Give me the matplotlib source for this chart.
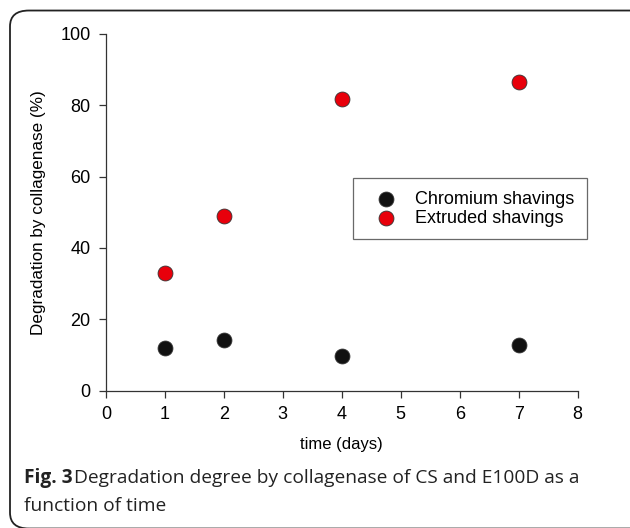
import matplotlib.pyplot as plt
from matplotlib.patches import FancyBboxPatch

days = [1, 2, 4, 7]
chromium = [11.9, 14.2, 9.7, 12.9]
extruded = [32.9, 49.0, 81.7, 86.4]

plt.rcParams['font.family'] = ['Liberation Sans', 'DejaVu Sans']

fig = plt.figure(figsize=(6.3, 5.28), dpi=100)
ax = fig.add_axes([0.168, 0.26, 0.749, 0.676])

ax.scatter(days, chromium, s=115, color='#111111', edgecolor='#333333', linewidth=0.6,
           label='Chromium shavings', zorder=3, clip_on=False)
ax.scatter(days, extruded, s=115, color='#e8000b', edgecolor='#333333', linewidth=0.6,
           label='Extruded shavings', zorder=3, clip_on=False)

ax.set_xlim(0, 8)
ax.set_ylim(0, 100)
ax.set_xticks(range(0, 9))
ax.set_yticks(range(0, 101, 20))
ax.spines['top'].set_visible(False)
ax.spines['right'].set_visible(False)
for s in ['left', 'bottom']:
    ax.spines[s].set_color('#333333')
    ax.spines[s].set_linewidth(0.9)
ax.tick_params(direction='out', length=5, width=0.9, color='#333333', labelsize=13, pad=6)
ax.set_xlabel('time (days)', fontsize=12, labelpad=10)
ax.set_ylabel('Degradation by collagenase (%)', fontsize=12.3, labelpad=10)

leg = ax.legend(loc='upper left', bbox_to_anchor=(353 / 630, 1 - 178 / 528),
                bbox_transform=fig.transFigure, fontsize=13, frameon=True, fancybox=False,
                borderaxespad=0, handletextpad=0.53, borderpad=0.7, labelspacing=0.12,
                handlelength=2.2)
leg.get_frame().set_edgecolor('#444444')
leg.get_frame().set_linewidth(0.9)

# rounded caption box, right side runs off the image
box = FancyBboxPatch((10 / 630, -0.001), 1.2, 1 - 10 / 528, boxstyle='round,pad=0,rounding_size=0.03',
                     transform=fig.transFigure, facecolor='none', edgecolor='#222222',
                     linewidth=1.3, clip_on=False)
fig.patches.append(box)

cap_font = ['Open Sans', 'DejaVu Sans']
fig.text(24 / 630, 1 - 483 / 528, 'Fig. 3', fontsize=13.8, fontweight='bold', family=cap_font,
         va='baseline', color='#222222')
fig.text(74 / 630, 1 - 483 / 528, 'Degradation degree by collagenase of CS and E100D as a',
         fontsize=13.8, family=cap_font, va='baseline', color='#222222')
fig.text(24 / 630, 1 - 511 / 528, 'function of time', fontsize=13.8, family=cap_font,
         va='baseline', color='#222222')

fig.savefig('out.png', dpi=100)
